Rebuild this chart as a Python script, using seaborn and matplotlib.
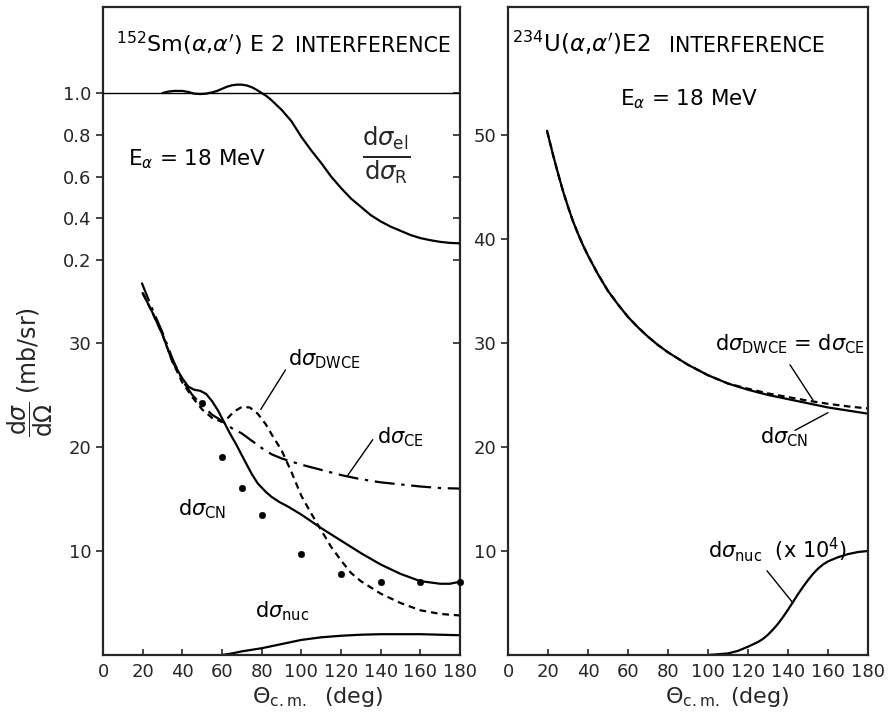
import matplotlib
matplotlib.use("Agg")
import matplotlib.pyplot as plt
import seaborn as sns

# ---------------- data: left panel (152Sm) ----------------
theta_ratio = [30, 33, 36, 40, 43, 46, 49, 52, 55, 57.5, 60, 62.5, 65, 67.5, 70,
               72.5, 75, 77.5, 80, 82.5, 85, 90, 95, 100, 105, 110, 115, 120,
               125, 130, 135, 140, 145, 150, 155, 160, 165, 170, 175, 180]
ratio_el = [1.0, 1.007, 1.01, 1.01, 1.005, 0.997, 0.995, 0.997, 1.003, 1.01,
            1.02, 1.03, 1.037, 1.04, 1.04, 1.036, 1.028, 1.015, 1.0, 0.985,
            0.965, 0.92, 0.865, 0.79, 0.725, 0.665, 0.60, 0.545, 0.495, 0.455,
            0.415, 0.385, 0.36, 0.34, 0.32, 0.305, 0.295, 0.287, 0.282, 0.28]

theta_cn_sm = [20, 25, 30, 35, 40, 43, 46, 49, 52, 55, 58, 61, 64, 67, 70, 72.5,
               75, 78, 82, 85, 89, 93, 100, 110, 120, 130, 140, 150, 160, 170,
               175, 180]
cn_sm = [34.8, 32.9, 30.8, 28.2, 26.6, 25.8, 25.5, 25.4, 25.1, 24.4, 23.5, 22.4,
         21.3, 20.3, 19.2, 18.3, 17.4, 16.5, 15.7, 15.2, 14.7, 14.3, 13.5, 12.2,
         11.0, 9.8, 8.7, 7.8, 7.1, 6.85, 6.85, 7.05]

theta_dwce_sm = [20, 25, 30, 35, 40, 45, 50, 55, 60, 62, 66, 70, 74, 78, 82, 86,
                 90, 95, 100, 105, 110, 115, 120, 125, 130, 140, 150, 160, 170,
                 180]
dwce_sm = [34.8, 32.9, 30.8, 28.2, 26.2, 24.8, 23.6, 22.8, 22.4, 22.6, 23.4,
           23.85, 23.8, 23.2, 22.2, 20.9, 19.7, 17.6, 15.3, 13.6, 12.0, 10.4,
           9.1, 7.9, 7.1, 5.9, 5.0, 4.3, 3.95, 3.8]

theta_ce_sm = [19.5, 25, 30, 35, 40, 45, 50, 55, 60, 65, 70, 75, 80, 85, 90,
               100, 110, 120, 130, 140, 150, 160, 170, 180]
ce_sm = [35.8, 33.2, 31.0, 28.5, 26.4, 25.0, 24.0, 23.1, 22.5, 21.8, 21.3, 20.6,
         19.9, 19.3, 18.9, 18.3, 17.8, 17.3, 16.9, 16.6, 16.4, 16.2, 16.05, 16.0]

theta_nuc_sm = [60, 65, 70, 80, 90, 100, 110, 120, 130, 140, 150, 160, 170, 180]
nuc_sm = [0, 0.15, 0.35, 0.65, 1.05, 1.45, 1.7, 1.85, 1.95, 2.0, 2.0, 2.0, 1.95, 1.9]

theta_exp = [50, 60, 70, 80, 100, 120, 140, 160, 180]
exp_sm = [24.2, 19.0, 16.1, 13.5, 9.7, 7.8, 7.05, 7.05, 7.05]

# ---------------- data: right panel (234U) ----------------
theta_u = [19.5, 22.5, 25, 27.5, 30, 32.5, 35, 37.5, 40, 45, 50, 55, 60, 65, 70,
           75, 80, 90, 100, 110, 120, 130, 140, 150, 160, 170, 180]
cn_u = [50.4, 48.1, 46.3, 44.6, 43.1, 41.7, 40.5, 39.4, 38.4, 36.6, 35.0, 33.7,
        32.5, 31.5, 30.6, 29.8, 29.1, 27.9, 26.9, 26.1, 25.5, 25.0, 24.6, 24.2,
        23.8, 23.5, 23.2]
dwce_u = [50.4, 48.1, 46.3, 44.6, 43.1, 41.7, 40.5, 39.4, 38.4, 36.6, 35.0, 33.7,
          32.5, 31.5, 30.6, 29.8, 29.1, 27.9, 26.9, 26.1, 25.6, 25.15, 24.8,
          24.45, 24.15, 23.9, 23.7]

theta_nuc_u = [100, 110, 115, 120, 125, 127.5, 130, 132.5, 135, 137.5, 140,
               142.5, 145, 147.5, 150, 152.5, 155, 157.5, 160, 165, 170, 175, 180]
nuc_u = [0, 0.15, 0.4, 0.8, 1.25, 1.55, 1.95, 2.45, 3.0, 3.65, 4.35, 5.1, 5.85,
         6.55, 7.2, 7.8, 8.3, 8.7, 9.0, 9.4, 9.7, 9.9, 10.0]

x_ticks = [0, 20, 40, 60, 80, 100, 120, 140, 160, 180]
y_ticks_left = [10, 20, 30]
ratio_ticks = [0.2, 0.4, 0.6, 0.8, 1.0]
y_ticks_right = [10, 20, 30, 40, 50]

# ---------------- figure ----------------
sns.set_style("ticks")
plt.rcParams['font.family'] = ['DejaVu Sans']
plt.rcParams['mathtext.fontset'] = 'dejavusans'

W, H = 888, 715
fig = plt.figure(figsize=(W / 100, H / 100), dpi=100)


def fx(px):
    return px / W


def fy(py):
    return 1 - py / H


YMAX = 62.3
ax1 = fig.add_axes([fx(103), fy(655), (460 - 103) / W, (655 - 7) / H])
ax2 = fig.add_axes([fx(508), fy(655), (868 - 508) / W, (655 - 7) / H])

LW = 1.6
K = 'black'

for ax in (ax1, ax2):
    ax.set_xlim(0, 180)
    ax.set_ylim(0, YMAX)
    for s in ax.spines.values():
        s.set_linewidth(1.6)
        s.set_visible(True)
    ax.set_xticks(x_ticks)
    ax.set_xticklabels([str(t) for t in x_ticks], fontsize=13)
    ax.tick_params(axis='x', direction='in', length=4, width=1.2, pad=6)
    ax.tick_params(axis='y', direction='out', length=5, width=1.2, labelsize=13,
                   right=False)

# ----- left panel curves -----
sns.lineplot(x=theta_cn_sm, y=cn_sm, ax=ax1, color=K, lw=LW)
sns.lineplot(x=theta_dwce_sm, y=dwce_sm, ax=ax1, color=K, lw=LW,
             linestyle=(0, (3, 2.2)))
sns.lineplot(x=theta_ce_sm, y=ce_sm, ax=ax1, color=K, lw=LW,
             linestyle=(0, (9, 3, 1.5, 3)))
sns.lineplot(x=theta_nuc_sm, y=nuc_sm, ax=ax1, color=K, lw=LW)
sns.scatterplot(x=theta_exp, y=exp_sm, ax=ax1, color=K, s=22, edgecolor=K,
                zorder=5, clip_on=False)
ax1.set_yticks(y_ticks_left)
ax1.set_yticklabels([str(t) for t in y_ticks_left])
ax1.set_xlabel('')
ax1.set_ylabel('')

# ratio axis in upper part of left panel
axr = ax1.twinx()
axr.set_ylim(-1.692, 1.412)
axr.yaxis.tick_left()
axr.set_yticks(ratio_ticks)
axr.set_yticklabels(['0.2', '0.4', '0.6', '0.8', '1.0'])
axr.tick_params(axis='y', direction='out', length=5, width=1.2, labelsize=13,
                right=False, left=True)
for s in axr.spines.values():
    s.set_visible(False)
axr.axhline(1.0, color=K, lw=1.0)
sns.lineplot(x=theta_ratio, y=ratio_el, ax=axr, color=K, lw=LW)
axr.set_ylabel('')

# inward ticks on right side of left panel
sec1 = ax1.secondary_yaxis('right')
sec1.set_yticks([30])
sec1.tick_params(axis='y', which='both', direction='in', length=5, width=1.2,
                 labelright=False, right=True, left=False)
sec1.spines['right'].set_visible(False)
secr = axr.secondary_yaxis('right')
secr.set_yticks(ratio_ticks)
secr.tick_params(axis='y', which='both', direction='in', length=5, width=1.2,
                 labelright=False, right=True, left=False)
secr.spines['right'].set_visible(False)

# leaders (left)
ax1.plot([79.5, 92], [23.6, 27.4], color=K, lw=1.0)
ax1.plot([123.5, 136], [17.3, 20.7], color=K, lw=1.0)

# ----- right panel curves -----
sns.lineplot(x=theta_u, y=dwce_u, ax=ax2, color=K, lw=LW, linestyle=(0, (3, 2)))
sns.lineplot(x=theta_u, y=cn_u, ax=ax2, color=K, lw=LW)
sns.lineplot(x=theta_nuc_u, y=nuc_u, ax=ax2, color=K, lw=LW)
ax2.set_yticks(y_ticks_right)
ax2.set_yticklabels([str(t) for t in y_ticks_right])
ax2.set_xlabel('')
ax2.set_ylabel('')

ax2.plot([141, 152.5], [27.9, 24.5], color=K, lw=1.0)
ax2.plot([143.5, 160], [21.6, 23.3], color=K, lw=1.0)
ax2.plot([129.5, 142.5], [8.1, 5.0], color=K, lw=1.0)

# ---------------- texts ----------------
def t(px, py, s, size, **kw):
    fig.text(fx(px), fy(py), s, fontsize=size, color=K, va='baseline', **kw)


t(116, 52, r"$^{152}$Sm($\alpha$,$\alpha'$) E 2", 16)
t(295, 52, "INTERFERENCE", 14.8)
t(512, 52, r"$^{234}$U($\alpha$,$\alpha'$)E2", 16.5)
t(669, 52, "INTERFERENCE", 14.8)

t(128, 165, r"E$_{\alpha}$ = 18 MeV", 15.5)
t(620, 105, r"E$_{\alpha}$ = 18 MeV", 15.5)

fig.text(fx(386), fy(155), r"$\frac{\mathrm{d}\sigma_{\mathrm{el}}}{\mathrm{d}\sigma_{\mathrm{R}}}$",
         fontsize=25, ha='center', va='center')

t(288, 365, r"d$\sigma_{\mathrm{DWCE}}$", 15)
t(377, 443, r"d$\sigma_{\mathrm{CE}}$", 15)
t(178, 515, r"d$\sigma_{\mathrm{CN}}$", 15)
t(255, 617, r"d$\sigma_{\mathrm{nuc}}$", 15)

t(715, 350, r"d$\sigma_{\mathrm{DWCE}}$ = d$\sigma_{\mathrm{CE}}$", 15)
t(760, 443, r"d$\sigma_{\mathrm{CN}}$", 15)
t(708, 558, r"d$\sigma_{\mathrm{nuc}}$  (x 10$^{4}$)", 15)

fig.text(fx(318), fy(697), r"$\Theta_{\mathrm{c.m.}}$  (deg)", fontsize=16,
         ha='center', va='center')
fig.text(fx(727), fy(697), r"$\Theta_{\mathrm{c.m.}}$ (deg)", fontsize=16,
         ha='center', va='center')

fig.text(fx(30), fy(372), r"$\dfrac{\mathrm{d}\sigma}{\mathrm{d}\Omega}$ (mb/sr)",
         fontsize=17, rotation=90, ha='center', va='center')

fig.savefig("out.png", dpi=100)
